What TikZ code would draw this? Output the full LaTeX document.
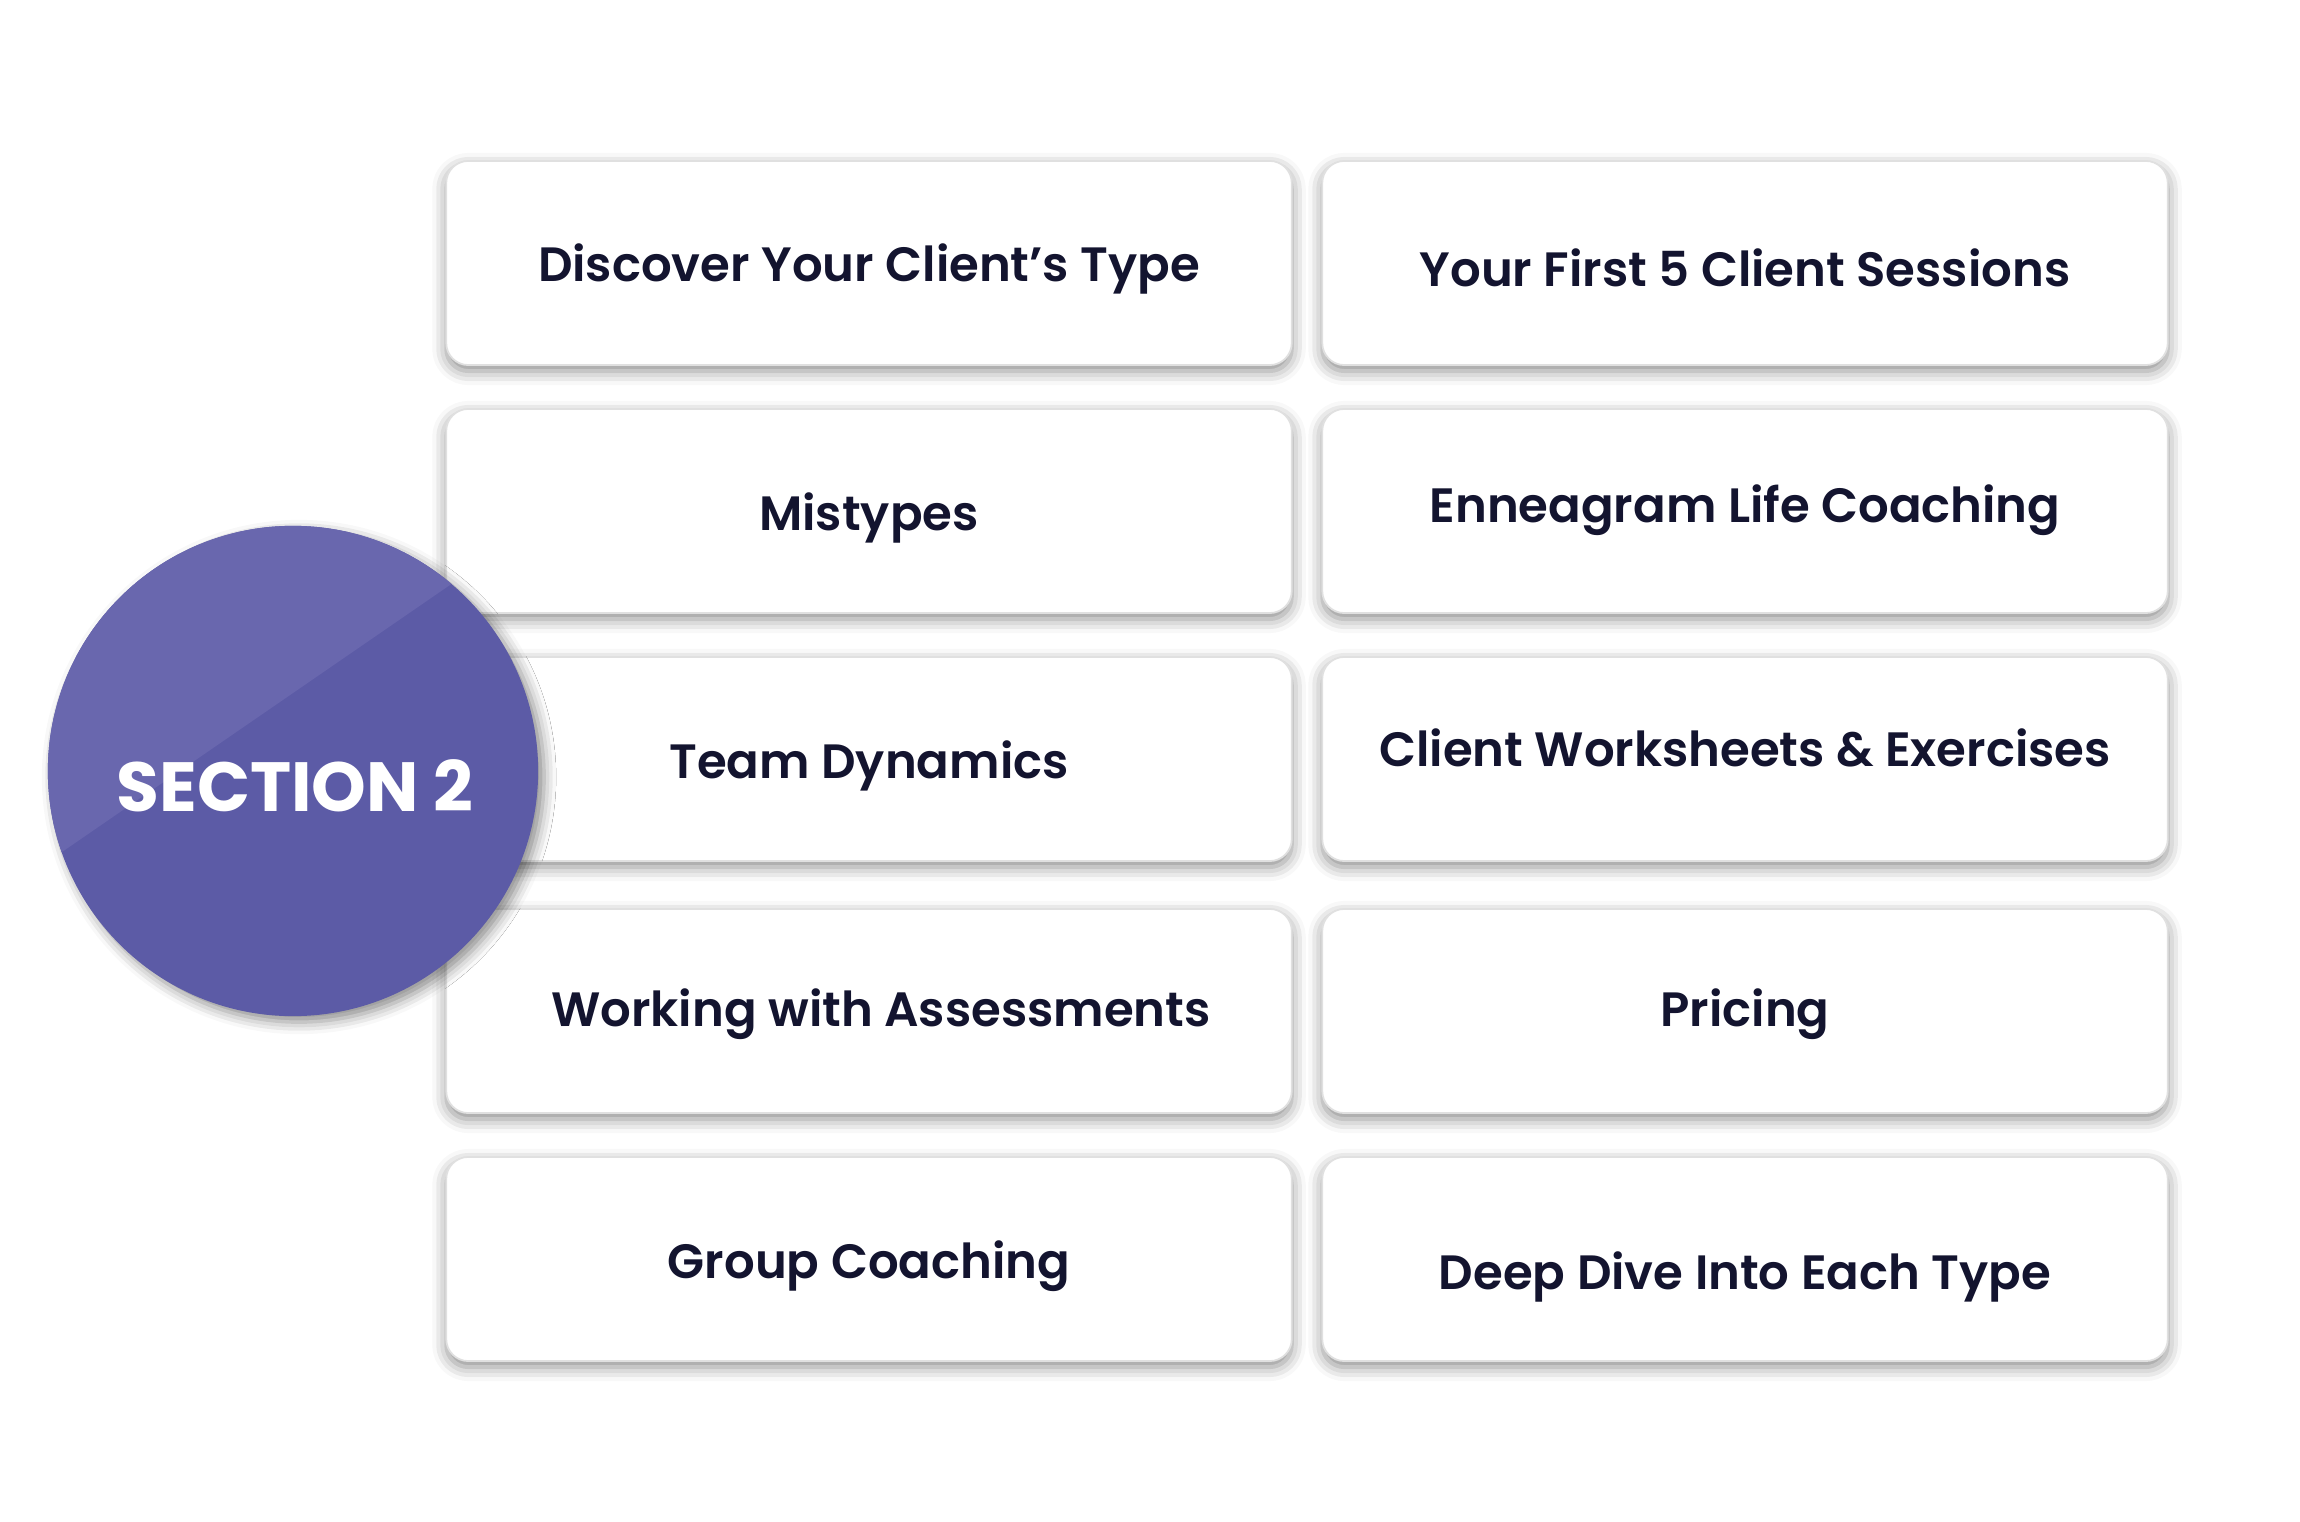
\documentclass[tikz,border=0pt]{standalone}
\usepackage{fontspec}
\setmainfont{Poppins}
\IfFontExistsTF{Poppins SemiBold}{\newfontfamily\itemfont{Poppins SemiBold}}{\newfontfamily\itemfont{Poppins}[FakeBold=1.5]}
\usetikzlibrary{calc,shadows.blur}
\definecolor{itemink}{HTML}{13142F}
\definecolor{secdark}{HTML}{5C5BA6}
\definecolor{seclight}{HTML}{6967AE}
\definecolor{boxline}{HTML}{E0E0E0}

\begin{document}
\begin{tikzpicture}[x=0.01cm,y=-0.01cm,
  item/.style={draw=boxline, line width=0.5pt, fill=white, rounded corners=0.22cm,
    minimum width=8.45cm, minimum height=2.04cm,
    blur shadow={shadow xshift=0pt, shadow yshift=-0.06cm, shadow blur radius=0.14cm, shadow opacity=45}},
  itemtext/.style={text=itemink, font=\itemfont\fontsize{13.7}{16}\selectfont}]
  \useasboundingbox (0,0) rectangle (2300,1522);

  \node[item] (b1) at (869,263) {};
  \node[item] (b2) at (1745,263) {};
  \node[item] (b3) at (869,511) {};
  \node[item] (b4) at (1745,511) {};
  \node[item] (b5) at (869,759) {};
  \node[item] (b6) at (1745,759) {};
  \node[item] (b7) at (869,1011) {};
  \node[item] (b8) at (1745,1011) {};
  \node[item] (b9) at (869,1259) {};
  \node[item] (b10) at (1745,1259) {};

  \node[itemtext] (t1) at ($(b1)+(0,6)$) {Discover Your Client’s Type};
  \node[itemtext] (t2) at ($(b2)+(0,5)$) {Your First 5 Client Sessions};
  \node[itemtext] (t3) at ($(b3)+(0,7)$) {Mistypes};
  \node[itemtext] (t4) at ($(b4)+(0,-1)$) {Enneagram Life Coaching};
  \node[itemtext] (t5) at ($(b5)+(0,7)$) {Team Dynamics};
  \node[itemtext] (t6) at ($(b6)+(0,-11)$) {Client Worksheets \& Exercises};
  \node[itemtext] (t7) at ($(b7)+(12,3)$) {Working with Assessments};
  \node[itemtext] (t8) at ($(b8)+(0,3)$) {Pricing};
  \node[itemtext] (t9) at ($(b9)+(0,7)$) {Group Coaching};
  \node[itemtext] (t10) at ($(b10)+(0,18)$) {Deep Dive Into Each Type};

  \node[circle, minimum size=4.9cm, fill=secdark,
    blur shadow={shadow xshift=0.06cm, shadow yshift=-0.06cm, shadow blur radius=0.12cm, shadow opacity=45},
    path picture={\fill[seclight] ($(path picture bounding box.center)+(-619,348)$)
      -- ($(path picture bounding box.center)+(545,-453)$)
      -- ($(path picture bounding box.center)+(-600,-600)$) -- cycle;}] (sec) at (293,771) {};
  \node[text=white, font=\bfseries\fontsize{19.8}{24}\selectfont] (sectxt) at ($(sec)+(2,15)$) {SECTION 2};
\end{tikzpicture}
\end{document}
